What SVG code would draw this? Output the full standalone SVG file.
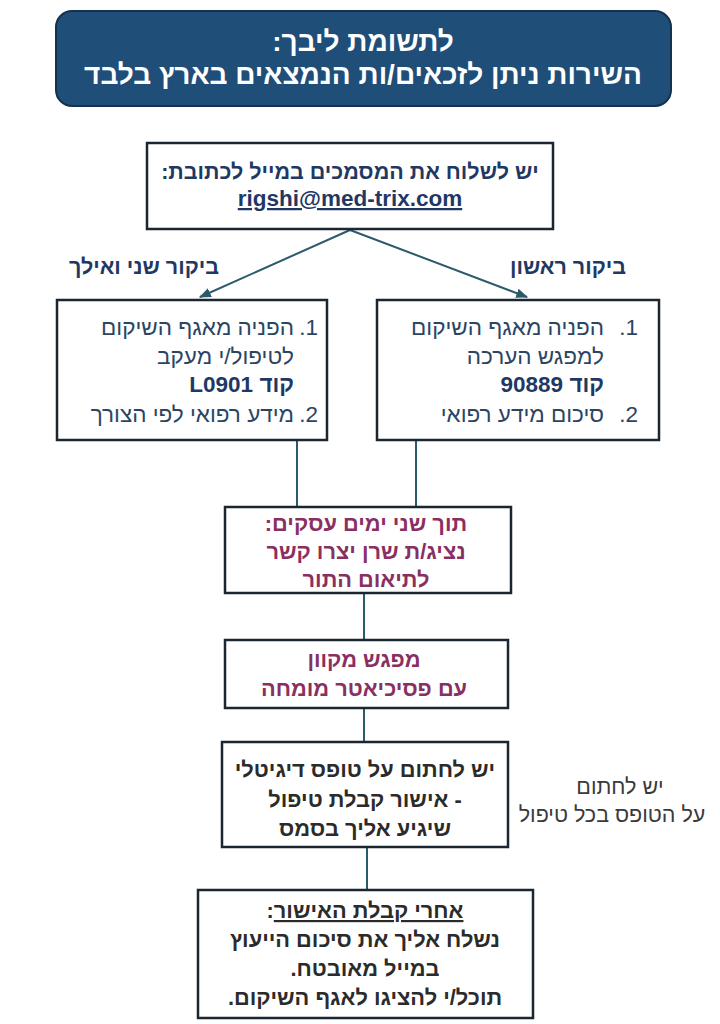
<svg xmlns="http://www.w3.org/2000/svg" width="720" height="1024" viewBox="0 0 720 1024">
<defs>
<style>
.box{fill:#ffffff;stroke:#1b2631;stroke-width:2.5}
.t{font-family:"Liberation Sans","DejaVu Sans",sans-serif;direction:rtl}
.n{font-family:"Liberation Sans","DejaVu Sans",sans-serif;direction:ltr}
.hdr{fill:#ffffff;font-weight:bold;font-size:28px}
.blue{fill:#1f3864;font-weight:bold;font-size:21.5px}
.mail{fill:#1f3864;font-weight:bold;font-size:22.5px}
.list{fill:#2b4563;font-size:22.5px}
.listb{fill:#1f3864;font-size:22.5px;font-weight:bold}
.purp{fill:#8a2f62;font-weight:bold;font-size:21.8px}
.dark{fill:#2b2b2b;font-weight:bold;font-size:21.8px}
.side{fill:#3a3a3a;font-size:21.5px}
.conn{stroke:#2a5b6b;stroke-width:2;fill:none}
</style>
<marker id="arr" viewBox="0 0 10 10" refX="9" refY="5" markerWidth="6" markerHeight="6" orient="auto">
<path d="M0,1 L10,5 L0,9 z" fill="#2a5b6b"/>
</marker>
</defs>
<rect width="720" height="1024" fill="#ffffff"/>

<g id="connectors">
<line class="conn" x1="350" y1="230" x2="200" y2="297" marker-end="url(#arr)"/>
<line class="conn" x1="350" y1="230" x2="527" y2="297" marker-end="url(#arr)"/>
<line class="conn" x1="297" y1="440" x2="297" y2="507"/>
<line class="conn" x1="416" y1="440" x2="416" y2="507"/>
<line class="conn" x1="364" y1="593" x2="364" y2="640"/>
<line class="conn" x1="364" y1="708" x2="364" y2="742"/>
<line class="conn" x1="367" y1="847" x2="367" y2="890"/>
</g>

<g id="header">
<rect x="56" y="11" width="615" height="95" rx="16" fill="#1f4e79" stroke="#14314d" stroke-width="2"/>
<text class="t hdr" x="363" y="51" text-anchor="middle">לתשומת ליבך:</text>
<text class="t hdr" x="363" y="84" text-anchor="middle">השירות ניתן לזכאים/ות הנמצאים בארץ בלבד</text>
</g>

<g id="email">
<rect class="box" x="147" y="143" width="406" height="86"/>
<text class="t blue" x="350" y="179" text-anchor="middle">יש לשלוח את המסמכים במייל לכתובת:</text>
<text class="n mail" x="350" y="206" text-anchor="middle" text-decoration="underline">rigshi@med-trix.com</text>
</g>

<g id="label-second">
<text class="t blue" x="144" y="274" text-anchor="middle">ביקור שני ואילך</text>
</g>
<g id="label-first">
<text class="t blue" x="568" y="274" text-anchor="middle">ביקור ראשון</text>
</g>

<g id="box-second">
<rect class="box" x="57" y="300" width="270" height="140"/>
<text class="t list" x="318" y="335" text-anchor="start">1.</text>
<text class="t list" x="294" y="335" text-anchor="start">הפניה מאגף השיקום</text>
<text class="t list" x="294" y="364" text-anchor="start">לטיפול/י מעקב</text>
<text class="t listb" x="294" y="392" text-anchor="start">קוד L0901</text>
<text class="t list" x="318" y="422" text-anchor="start">2.</text>
<text class="t list" x="294" y="422" text-anchor="start">מידע רפואי לפי הצורך</text>
</g>

<g id="box-first">
<rect class="box" x="377" y="300" width="282" height="140"/>
<text class="t list" x="638" y="335" text-anchor="start">1.</text>
<text class="t list" x="604" y="335" text-anchor="start">הפניה מאגף השיקום</text>
<text class="t list" x="604" y="364" text-anchor="start">למפגש הערכה</text>
<text class="t listb" x="604" y="392" text-anchor="start">קוד 90889</text>
<text class="t list" x="638" y="422" text-anchor="start">2.</text>
<text class="t list" x="604" y="422" text-anchor="start">סיכום מידע רפואי</text>
</g>

<g id="box-contact">
<rect class="box" x="225" y="507" width="286" height="86"/>
<text class="t purp" x="366" y="531" text-anchor="middle">תוך שני ימים עסקים:</text>
<text class="t purp" x="366" y="559" text-anchor="middle">נציג/ת שרן יצרו קשר</text>
<text class="t purp" x="366" y="587" text-anchor="middle">לתיאום התור</text>
</g>

<g id="box-online">
<rect class="box" x="225" y="640" width="283" height="68"/>
<text class="t purp" x="364" y="667" text-anchor="middle">מפגש מקוון</text>
<text class="t purp" x="364" y="696" text-anchor="middle">עם פסיכיאטר מומחה</text>
</g>

<g id="box-sign">
<rect class="box" x="222" y="742" width="286" height="105"/>
<text class="t dark" x="365" y="777" text-anchor="middle">יש לחתום על טופס דיגיטלי</text>
<text class="t dark" x="365" y="807" text-anchor="middle">- אישור קבלת טיפול</text>
<text class="t dark" x="365" y="836" text-anchor="middle">שיגיע אליך בסמס</text>
</g>

<g id="note">
<text class="t side" x="620" y="794" text-anchor="middle">יש לחתום</text>
<text class="t side" x="612" y="822" text-anchor="middle">על הטופס בכל טיפול</text>
</g>

<g id="box-after">
<rect class="box" x="198" y="890" width="335" height="128"/>
<text class="t dark" x="365" y="918" text-anchor="middle"><tspan text-decoration="underline">אחרי קבלת האישור</tspan>:</text>
<text class="t dark" x="365" y="947" text-anchor="middle">נשלח אליך את סיכום הייעוץ</text>
<text class="t dark" x="365" y="976" text-anchor="middle">במייל מאובטח.</text>
<text class="t dark" x="365" y="1005" text-anchor="middle">תוכל/י להציגו לאגף השיקום.</text>
</g>
</svg>
